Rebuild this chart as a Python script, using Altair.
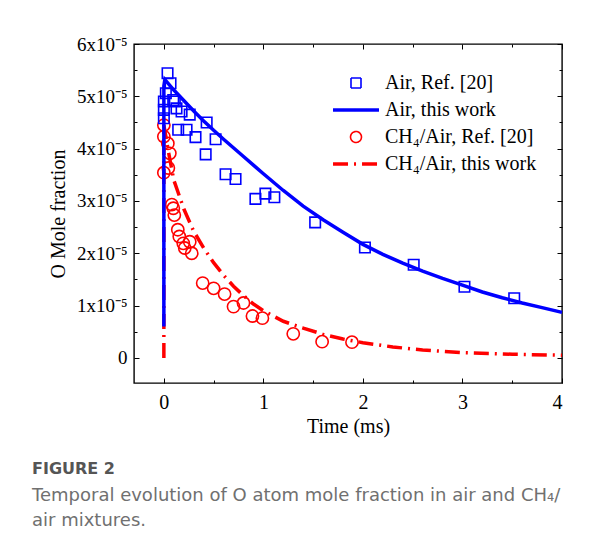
import altair as alt
import pandas as pd

BLUE = "#0000ff"
RED = "#ff0000"
SERIF = "Liberation Serif"

S_AIR_REF = "Air, Ref. [20]"
S_AIR = "Air, this work"
S_CH4_REF = "CH\u2084/Air, Ref. [20]"
S_CH4 = "CH\u2084/Air, this work"
series_order = [S_AIR_REF, S_AIR, S_CH4_REF, S_CH4]
series_colors = [BLUE, BLUE, RED, RED]

# Air, Ref. [20] : time (ms), O mole fraction
air_ref_t = [0.0, 0.0, 0.0, 0.02, 0.037, 0.067, 0.094, 0.11, 0.127, 0.178, 0.26,
             0.144, 0.228, 0.318, 0.43, 0.52, 0.42, 0.62, 0.72, 0.92, 1.02, 1.11,
             1.52, 2.02, 2.51, 3.02, 3.52]
air_ref_y = [4.58e-5, 4.74e-5, 4.90e-5, 5.06e-5, 5.44e-5, 5.25e-5, 4.93e-5, 4.90e-5,
             4.77e-5, 4.71e-5, 4.65e-5, 4.36e-5, 4.36e-5, 4.22e-5, 4.50e-5, 4.18e-5,
             3.89e-5, 3.51e-5, 3.42e-5, 3.04e-5, 3.14e-5, 3.07e-5, 2.59e-5, 2.11e-5,
             1.78e-5, 1.36e-5, 1.14e-5]

# CH4/Air, Ref. [20]
ch4_ref_t = [0.0, 0.0, 0.04, 0.06, 0.045, 0.0, 0.08, 0.095, 0.105, 0.14, 0.155,
             0.195, 0.26, 0.21, 0.28, 0.39, 0.50, 0.61, 0.80, 0.70, 0.89, 0.99,
             1.30, 1.59, 1.89]
ch4_ref_y = [4.45e-5, 4.23e-5, 4.10e-5, 3.91e-5, 3.63e-5, 3.54e-5, 2.93e-5, 2.86e-5,
             2.73e-5, 2.45e-5, 2.32e-5, 2.19e-5, 2.22e-5, 2.10e-5, 2.00e-5, 1.43e-5,
             1.33e-5, 1.22e-5, 1.05e-5, 0.98e-5, 0.80e-5, 0.76e-5, 0.46e-5, 0.31e-5,
             0.30e-5]

# Air, this work
air_t = [0.0, 0.0, 0.01, 0.1, 0.2, 0.3, 0.4, 0.5, 0.6, 0.8, 1.0, 1.2, 1.4, 1.6, 1.8,
         2.0, 2.2, 2.4, 2.6, 2.8, 3.0, 3.2, 3.4, 3.6, 3.8, 4.0]
air_y = [0.60e-5, 5.20e-5, 5.32e-5, 5.12e-5, 4.92e-5, 4.72e-5, 4.53e-5, 4.35e-5,
         4.18e-5, 3.85e-5, 3.52e-5, 3.20e-5, 2.90e-5, 2.64e-5, 2.40e-5, 2.17e-5,
         1.98e-5, 1.81e-5, 1.66e-5, 1.52e-5, 1.39e-5, 1.26e-5, 1.15e-5, 1.05e-5,
         0.96e-5, 0.87e-5]

# CH4/Air, this work
ch4_t = [0.0, 0.0, 0.05, 0.1, 0.2, 0.3, 0.4, 0.5, 0.6, 0.7, 0.8, 0.9, 1.0, 1.2, 1.4,
         1.6, 1.8, 2.0, 2.3, 2.6, 3.0, 3.5, 4.0]
ch4_y = [0.0, 4.45e-5, 3.90e-5, 3.40e-5, 2.85e-5, 2.42e-5, 2.10e-5, 1.82e-5, 1.58e-5,
         1.37e-5, 1.19e-5, 1.03e-5, 0.90e-5, 0.70e-5, 0.57e-5, 0.45e-5, 0.36e-5,
         0.29e-5, 0.21e-5, 0.15e-5, 0.10e-5, 0.07e-5, 0.05e-5]

x_major = [0, 1, 2, 3, 4]
x_minor = [0.5, 1.5, 2.5, 3.5]
y_major = [0, 1e-5, 2e-5, 3e-5, 4e-5, 5e-5, 6e-5]
y_minor = [0.5e-5, 1.5e-5, 2.5e-5, 3.5e-5, 4.5e-5, 5.5e-5]

caption_title = "FIGURE 2"
caption_lines = ["Temporal evolution of O atom mole fraction in air and CH\u2084/",
                 "air mixtures."]

rows = []
for name, ts, ys in [(S_AIR_REF, air_ref_t, air_ref_y), (S_AIR, air_t, air_y),
                     (S_CH4_REF, ch4_ref_t, ch4_ref_y), (S_CH4, ch4_t, ch4_y)]:
    for i, (t, y) in enumerate(zip(ts, ys)):
        rows.append({"series": name, "t": t, "y": y, "i": i})
df = pd.DataFrame(rows)

xscale = alt.Scale(domain=[-0.3, 4], nice=False, zero=False)
yscale = alt.Scale(domain=[-0.48e-5, 6e-5], nice=False, zero=False)

ylabel = ("datum.value === 0 ? '0' : format(round(datum.value * 1e5), 'd') + 'x10\u207b\u2075'")


def ax(orient, values, major, labels=False, title=None, **kw):
    size = 5 if major else 3
    base = dict(orient=orient, values=values, tickSize=size, offset=-size,
                domain=False, grid=False, labels=labels, tickColor="black",
                tickWidth=1, title=title)
    base.update(kw)
    return alt.Axis(**base)


def is_(s):
    return f"datum.value === '{s}'"


shape_expr = f"{is_(S_AIR_REF)} ? 'square' : {is_(S_CH4_REF)} ? 'circle' : 'M-4,0H4'"
size_expr = f"{is_(S_AIR_REF)} ? 100 : {is_(S_CH4_REF)} ? 120 : 132"
sw_expr = f"({is_(S_AIR)} || {is_(S_CH4)}) ? 3.5 : 1.6"
dash_expr = f"{is_(S_CH4)} ? [15,6,2,6] : [1,0]"

color = alt.Color(
    "series:N",
    scale=alt.Scale(domain=series_order, range=series_colors),
    legend=alt.Legend(orient="none", legendX=212, legendY=29, title=None,
                      symbolType=alt.ExprRef(expr=shape_expr),
                      symbolSize=alt.ExprRef(expr=size_expr),
                      symbolStrokeWidth=alt.ExprRef(expr=sw_expr),
                      symbolDash=alt.ExprRef(expr=dash_expr),
                      symbolFillColor="transparent",
                      symbolOpacity=1),
)

base = alt.Chart(df)

ch4_line = base.transform_filter(alt.datum.series == S_CH4).mark_line().encode(
    x=alt.X("t:Q", scale=xscale,
            axis=ax("bottom", x_major, True, labels=True, title="Time (ms)",
                    labelFont=SERIF, labelFontSize=20, labelPadding=9,
                    titleFont=SERIF, titleFontSize=20, titleFontWeight="normal",
                    titlePadding=4, labelColor="black", titleColor="black")),
    y=alt.Y("y:Q", scale=yscale,
            axis=ax("left", y_major, True, labels=True, title="O Mole fraction",
                    labelExpr=ylabel, labelFont=SERIF, labelFontSize=19,
                    labelPadding=7, titleFont=SERIF, titleFontSize=20,
                    titleFontWeight="normal", titlePadding=8,
                    labelColor="black", titleColor="black")),
    color=color,
    strokeWidth=alt.value(3.5),
    strokeDash=alt.value([15, 6, 2, 6]),
    order="i:Q",
)

circles = base.transform_filter(alt.datum.series == S_CH4_REF).mark_point(
    shape="circle", filled=False
).encode(
    x=alt.X("t:Q", scale=xscale, axis=ax("bottom", x_minor, False)),
    y=alt.Y("y:Q", scale=yscale, axis=ax("left", y_minor, False)),
    color=color,
    size=alt.value(150),
    strokeWidth=alt.value(1.6),
    opacity=alt.value(1),
)

squares = base.transform_filter(alt.datum.series == S_AIR_REF).mark_point(
    shape="square", filled=False
).encode(
    x=alt.X("t:Q", scale=xscale, axis=ax("top", x_major, True)),
    y=alt.Y("y:Q", scale=yscale, axis=ax("right", y_major, True)),
    color=color,
    size=alt.value(110),
    strokeWidth=alt.value(1.6),
    opacity=alt.value(1),
)

air_line = base.transform_filter(alt.datum.series == S_AIR).mark_line().encode(
    x=alt.X("t:Q", scale=xscale, axis=ax("top", x_minor, False)),
    y=alt.Y("y:Q", scale=yscale, axis=ax("right", y_minor, False)),
    color=color,
    strokeWidth=alt.value(3.5),
    order="i:Q",
)

chart = alt.layer(ch4_line, circles, squares, air_line).resolve_axis(
    x="independent", y="independent"
).properties(
    width=428,
    height=339,
    padding={"left": 126, "top": 36, "right": 40, "bottom": 160},
    autosize=alt.AutoSizeParams(type="none"),
    title=alt.TitleParams(
        text=caption_title,
        subtitle=caption_lines,
        orient="bottom",
        anchor="start",
        frame="group",
        dx=-102,
        offset=25,
        font="DejaVu Sans",
        fontSize=16,
        fontWeight="bold",
        color="#555555",
        subtitleFont="DejaVu Sans",
        subtitleFontSize=18,
        subtitleColor="#707070",
        subtitleLineHeight=25,
        subtitlePadding=10,
    ),
).configure_view(
    stroke="black", strokeWidth=1.4
).configure_legend(
    labelFont=SERIF, labelFontSize=20, labelColor="black", labelLimit=400,
    rowPadding=7, labelOffset=19, padding=0,
)

chart.save("out.html", embed_options={"renderer": "svg", "actions": False})
